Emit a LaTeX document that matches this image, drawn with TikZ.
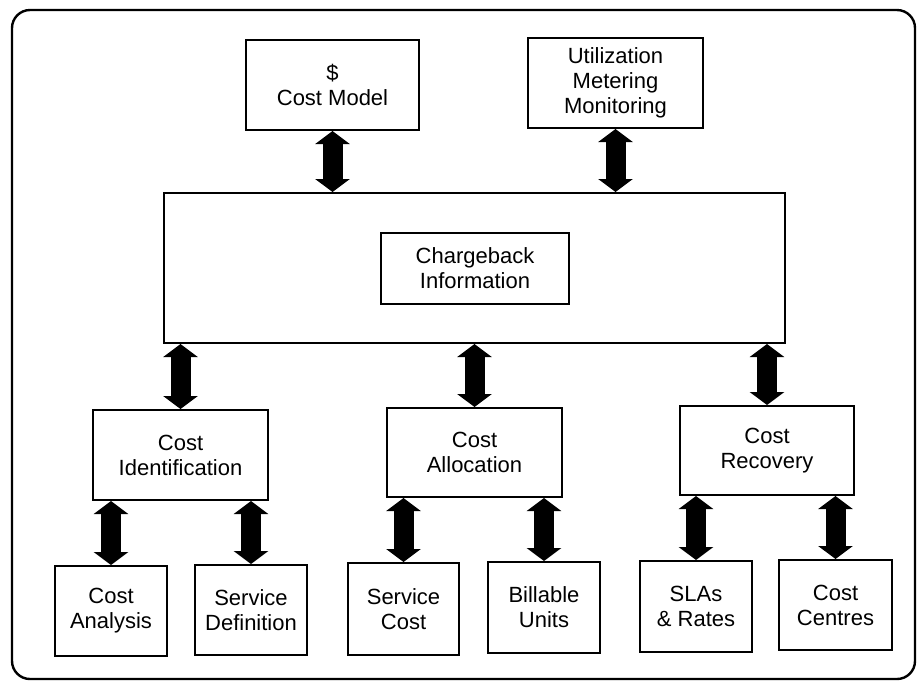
\documentclass[tikz,border=0pt]{standalone}
\usepackage{fontspec}
\setmainfont{Liberation Sans}
\usetikzlibrary{arrows.meta}
\begin{document}
\begin{tikzpicture}[x=0.5pt,y=-0.5pt,
  box/.style={draw, line width=1pt, align=center, inner sep=1pt,
    font=\fontsize{11}{12.5}\selectfont},
  barrow/.style={line width=10pt,
    {Triangle[width=17pt,length=6.5pt]}-{Triangle[width=17pt,length=6.5pt]}}]
  \useasboundingbox (0,0) rectangle (919,682);
  % outer frame
  \draw[line width=1.2pt, rounded corners=9pt] (12,10) rectangle (915,679);

  % top row
  \node[box, minimum width=86.5pt, minimum height=45pt] (cm) at (332.5,85) {\$\\Cost Model};
  \node[box, minimum width=87.5pt, minimum height=45pt] (um) at (615.5,83) {Utilization\\Metering\\Monitoring};

  % central block
  \node[box, minimum width=310.5pt, minimum height=75pt] (big) at (474.5,268) {};
  \node[box, minimum width=94pt, minimum height=35.5pt] (cb) at (475,268.5) {Chargeback\\Information};

  % middle row
  \node[box, minimum width=87.5pt, minimum height=45pt] (ci) at (180.5,455) {Cost\\Identification};
  \node[box, minimum width=87.5pt, minimum height=44.5pt] (cal) at (474.5,452.5) {Cost\\Allocation};
  \node[box, minimum width=87pt, minimum height=44.5pt] (cr) at (767,450.5) {Cost\\Recovery};

  % bottom row
  \node[box, minimum width=56pt, minimum height=45pt] (ca) at (111,611) {Cost\\Analysis};
  \node[box, minimum width=56pt, minimum height=45pt] (sd) at (251,610) {Service\\Definition};
  \node[box, minimum width=55.5pt, minimum height=46pt] (sc) at (403.5,609) {Service\\Cost};
  \node[box, minimum width=56pt, minimum height=45.5pt] (bu) at (544,607.5) {Billable\\Units};
  \node[box, minimum width=56pt, minimum height=45.5pt] (sla) at (696,606.5) {SLAs\\\& Rates};
  \node[box, minimum width=56.5pt, minimum height=45pt] (cc) at (835.5,605) {Cost\\Centres};

  % two-way block arrows
  \draw[barrow] (cm.south) -- (cm.south |- big.north);
  \draw[barrow] (um.south) -- (um.south |- big.north);
  \draw[barrow] (big.south -| ci.north) -- (ci.north);
  \draw[barrow] (big.south -| cal.north) -- (cal.north);
  \draw[barrow] (big.south -| cr.north) -- (cr.north);
  \draw[barrow] (ci.south -| ca.north) -- (ca.north);
  \draw[barrow] (ci.south -| sd.north) -- (sd.north);
  \draw[barrow] (cal.south -| sc.north) -- (sc.north);
  \draw[barrow] (cal.south -| bu.north) -- (bu.north);
  \draw[barrow] (cr.south -| sla.north) -- (sla.north);
  \draw[barrow] (cr.south -| cc.north) -- (cc.north);
\end{tikzpicture}
\end{document}
